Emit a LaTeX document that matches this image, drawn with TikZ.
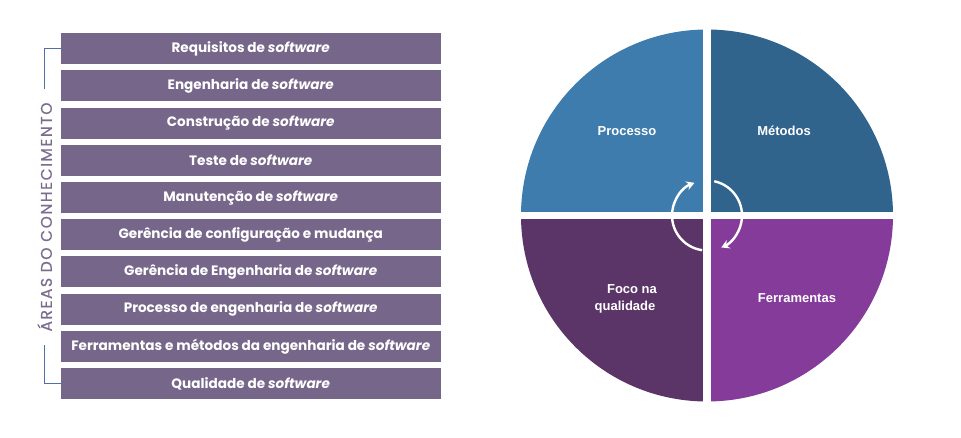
\documentclass[tikz,border=0pt]{standalone}
\usepackage{fontspec}
\setmainfont{Poppins}
\newfontfamily\labelfont{Liberation Sans}
\newfontfamily\areasfont{Poppins}[LetterSpace=10, FakeBold=0.6]
\usetikzlibrary{arrows.meta}

\definecolor{areafill}{RGB}{118,102,138}
\definecolor{areatext}{RGB}{122,108,142}
\definecolor{bracketcol}{RGB}{82,112,160}
\definecolor{procfill}{RGB}{62,124,173}
\definecolor{metfill}{RGB}{49,100,141}
\definecolor{focofill}{RGB}{91,53,103}
\definecolor{ferrfill}{RGB}{132,59,154}

\tikzset{
  areabox/.style={fill=areafill, minimum width=380, minimum height=31,
    inner sep=0pt, text=white, font=\bfseries\fontsize{13.6}{15}\selectfont},
  bracket/.style={draw=bracketcol, line width=1.4pt},
  quadlabel/.style={text=white, align=center,
    font=\labelfont\bfseries\fontsize{13}{17}\selectfont},
  cyc/.style={draw=white, line width=2.4pt, -{Stealth[length=8pt,width=9pt]}}
}

\begin{document}
\begin{tikzpicture}[x=1pt,y=-1pt]
\useasboundingbox (0,0) rectangle (961,438);

% knowledge areas
\foreach \i/\t in {1/{Requisitos de \emph{software}},
                   2/{Engenharia de \emph{software}},
                   3/{Construção de \emph{software}},
                   4/{Teste de \emph{software}},
                   5/{Manutenção de \emph{software}},
                   6/{Gerência de configuração e mudança},
                   7/{Gerência de Engenharia de \emph{software}},
                   8/{Processo de engenharia de \emph{software}},
                   9/{Ferramentas e métodos da engenharia de \emph{software}},
                   10/{Qualidade de \emph{software}}}
  \node[areabox] (b\i) at (250.7, {48.8+37.2*(\i-1)}) {\t};

% bracket and its vertical title
\coordinate (brtop) at (44.7,89);
\coordinate (brbot) at (44.7,345);
\draw[bracket] (b1.west) -| (brtop);
\draw[bracket] (b10.west) -| (brbot);
\node[rotate=90, text=areatext, font=\areasfont\fontsize{15.5}{17}\selectfont] (areas)
  at (44.7,217) {ÁREAS DO CONHECIMENTO};

% four-quadrant circle
\coordinate (c) at (707,215.5);
\begin{scope}
  \clip (c) circle[radius=186];
  \fill[procfill] (c) rectangle ++(-190,-190);
  \fill[metfill]  (c) rectangle ++(190,-190);
  \fill[focofill] (c) rectangle ++(-190,190);
  \fill[ferrfill] (c) rectangle ++(190,190);
\end{scope}
\draw[white, line width=8pt] ([yshift=-195]c) -- ([yshift=195]c);
\draw[white, line width=7pt] ([xshift=-195]c) -- ([xshift=195]c);

\node[quadlabel] (proc) at (627,131) {Processo};
\node[quadlabel] (met)  at (784,131) {Métodos};
\node[quadlabel] (foco) at (625,299) {\hspace*{14pt}Foco na\\qualidade};
\node[quadlabel] (ferr) at (797,298) {Ferramentas};

% cycle arrows
\draw[cyc] ([shift={(98:35)}]c) arc[start angle=98, end angle=249, radius=35];
\draw[cyc] ([shift={(282:35)}]c) arc[start angle=282, end angle=426, radius=35];
\end{tikzpicture}
\end{document}
